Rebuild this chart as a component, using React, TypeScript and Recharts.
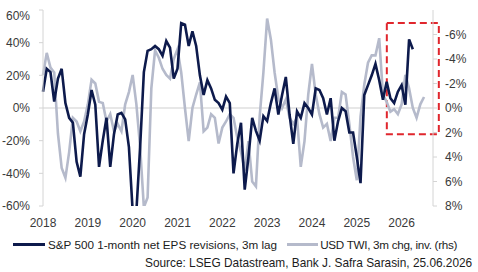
import React from 'react';
import { LineChart, Line, XAxis, YAxis, ReferenceLine, ReferenceArea } from 'recharts';

// monthly observations, first point = Jan 2018
const START_YEAR = 2018;

const yearTicks = [2018, 2019, 2020, 2021, 2022, 2023, 2024, 2025, 2026];
const leftTicks = [-60, -40, -20, 0, 20, 40, 60];
const rightTicks = [-8, -6, -4, -2, 0, 2, 4, 6, 8];

// S&P 500 1-month net EPS revisions, 3m lag (%)
const epsRevisions = [
  10, 24, 22, 4, 18, 24, 3, -6, -9, -33,
  -42, -16, -4, 11, 2, -36, -20, -6, -36, -16,
  -4, -3, -7, -24, -63, -63, -24, 22, 35, 36,
  38, 36, 32, 41, 37, 18, 24, 52, 51, 38,
  47, 38, 20, 8, 17, 12, 5, 3, -1, 7,
  3, -40, -22, -9, -50, -30, -6, -14, -20, -5,
  -8, 3, 12, -4, 8, 19, -4, -22, -2, -6,
  3, 0, -4, 12, 11, 6, -4, 6, -20, -8,
  0, -2, -15, -15, -30, -46, 8, 14, 20, 27,
  17, 5, 16, 6, 3, 10, 14, 2, 42, 36,
];

// USD TWI, 3m change (%), plotted on the inverted right axis
const usdTwi = [
  -2.7, -4.5, -3.3, -2.9, 2.1, 4.9, 5.7, 3.6, 0.8, 1.1,
  1.9, 1.1, -0.3, -2.3, -2.0, -0.5, -0.4, 1.1, 0.5, 1.9,
  1.3, 1.9, -0.3, -1.3, -2.7, -0.3, 3.2, 8.1, 7.3, -1.6,
  -4.7, -4.1, -3.2, -2.7, -2.4, -4.0, -4.8, -2.9, 0, 2.7,
  0, -1.1, -2.1, 1.9, 1.6, 0.5, 0.8, 2.9, 1.6, 1.1,
  0.5, 0.8, 2.4, 3.6, 5.1, 2.7, 6.0, 6.4, 0.7, -2.9,
  -7.3, -5.6, -2.9, -0.8, 0, -0.7, 0.8, 1.3, 0.8, 4.8,
  2.7, -1.1, -3.6, -1.1, 0.5, 1.6, 1.3, 2.7, 0.8, 0.8,
  -1.3, -1.1, 1.3, 4.0, 5.9, 0.7, -1.9, -3.7, -4.3, -4.3,
  -5.7, -1.1, -0.5, 0.3, 0.1, 0.5, -0.3, -2.7, -1.6, 0,
  0.8, -0.3, -0.9,
];

// dashed highlight box (years / left-axis %)
const highlight = { from: 2025.67, to: 2026.83, top: 52, bottom: -16 };

const rows = usdTwi.map((usd, i) => ({
  t: START_YEAR + i / 12,
  eps: i < epsRevisions.length ? epsRevisions[i] : null,
  usd,
}));

const FONT = '"Liberation Sans", Arial, sans-serif';
const NAVY = '#0d1a4c';
const GREY = '#b5bacb';
const tickStyle = { fontSize: 12, fill: '#3a3a3a', fontFamily: FONT };

export default function App() {
  return (
    <div style={{ position: 'absolute', left: 0, top: 0, width: 478, height: 272, fontFamily: FONT }}>
      <div style={{ position: 'absolute', left: 0, top: 8 }}>
        <LineChart
          width={470}
          height={226}
          data={rows}
          margin={{ top: 2, right: 0, bottom: 0, left: 0 }}
        >
          <XAxis
            dataKey="t"
            type="number"
            domain={[2018, 2026.7]}
            ticks={yearTicks}
            axisLine={false}
            tickLine={false}
            tickSize={0}
            tickMargin={12}
            height={28}
            tick={tickStyle}
          />
          <YAxis
            yAxisId="left"
            domain={[-60, 60]}
            ticks={leftTicks}
            allowDataOverflow
            tickFormatter={(v) => `${v}%`}
            width={43}
            axisLine={{ stroke: '#d4d4d4' }}
            tickLine={{ stroke: '#d4d4d4' }}
            tickSize={4}
            tickMargin={9}
            tick={tickStyle}
          />
          <YAxis
            yAxisId="right"
            orientation="right"
            reversed
            domain={[-8, 8]}
            ticks={rightTicks}
            allowDataOverflow
            tickFormatter={(v) => `${v}%`}
            width={37}
            axisLine={{ stroke: '#d4d4d4' }}
            tickLine={{ stroke: '#d4d4d4' }}
            tickSize={4}
            tickMargin={8}
            tick={tickStyle}
          />
          <ReferenceLine yAxisId="left" y={0} stroke="#cfcfcf" strokeWidth={1} />
          <Line
            yAxisId="right"
            dataKey="usd"
            stroke={GREY}
            strokeWidth={2.6}
            dot={false}
            isAnimationActive={false}
          />
          <Line
            yAxisId="left"
            dataKey="eps"
            stroke={NAVY}
            strokeWidth={2.6}
            dot={false}
            connectNulls={false}
            isAnimationActive={false}
          />
          <ReferenceArea
            yAxisId="left"
            x1={highlight.from}
            x2={highlight.to}
            y1={highlight.bottom}
            y2={highlight.top}
            ifOverflow="visible"
            fill="none"
            fillOpacity={0}
            stroke="#e0262d"
            strokeWidth={2}
            strokeDasharray="7 4"
          />
        </LineChart>
      </div>

      <div
        style={{
          position: 'absolute',
          left: 13,
          top: 236,
          height: 16,
          display: 'flex',
          alignItems: 'center',
          fontSize: 11.7,
          color: '#1c1c1c',
          whiteSpace: 'nowrap',
        }}
      >
        <span style={{ width: 32, height: 3, background: NAVY, marginRight: 3 }} />
        <span>S&amp;P 500 1-month net EPS revisions, 3m lag</span>
        <span style={{ width: 31, height: 3, background: GREY, marginLeft: 10, marginRight: 2 }} />
        <span style={{ letterSpacing: -0.3 }}>USD TWI, 3m chg, inv. (rhs)</span>
      </div>

      <div
        style={{
          position: 'absolute',
          left: 145,
          top: 255,
          height: 16,
          lineHeight: '16px',
          fontSize: 11.85,
          color: '#1c1c1c',
          whiteSpace: 'nowrap',
        }}
      >
        Source: LSEG Datastream, Bank J. Safra Sarasin, 25.06.2026
      </div>
    </div>
  );
}
